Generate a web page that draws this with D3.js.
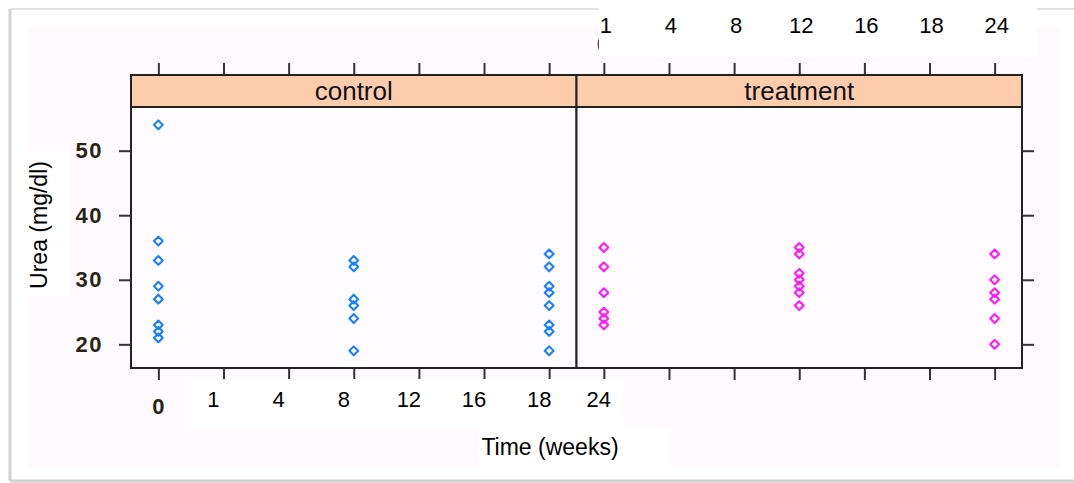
<!DOCTYPE html>
<html>
<head>
<meta charset="utf-8">
<script src="https://cdn.jsdelivr.net/npm/d3@7"></script>
<style>
  body { margin: 0; background: #fff; }
  svg { display: block; font-family: Arial, "Liberation Sans", sans-serif; }
</style>
</head>
<body>
<svg id="chart"></svg>
<script>
// Data
const panels = ["control", "treatment"];
const slotCount = 7;                 // tick positions per panel
const timeSlots = [0, 3, 6];         // where the measurements sit
const controlUrea = [
  [54, 36, 33, 29, 27, 23, 22, 21],
  [33, 32, 27, 26, 24, 19],
  [34, 32, 29, 28, 26, 23, 22, 19]
];
const treatmentUrea = [
  [35, 32, 28, 25, 24, 23],
  [35, 34, 31, 30, 29, 28, 26],
  [34, 30, 28, 27, 24, 20]
];
const yTicks = [20, 30, 40, 50];
const pastedLabels = ["1", "4", "8", "12", "16", "18", "24"];
const panelColors = ["#1a80ff", "#ff1aff"];

const width = 1074, height = 483;
const svg = d3.select("#chart").attr("width", width).attr("height", height);

// page frame / background
svg.append("rect").attr("x", 27).attr("y", 27).attr("width", 1035).attr("height", 440)
  .attr("fill", "#fefafe");
svg.append("line").attr("x1", 10).attr("x2", 10).attr("y1", 9).attr("y2", 481)
  .attr("stroke", "#d2d2d2").attr("stroke-width", 3);
svg.append("line").attr("x1", 10).attr("x2", width).attr("y1", 9).attr("y2", 9)
  .attr("stroke", "#e2e2e2").attr("stroke-width", 2);
svg.append("line").attr("x1", 10).attr("x2", width).attr("y1", 481).attr("y2", 481)
  .attr("stroke", "#d0d0d0").attr("stroke-width", 3);

const plotLeft = 131, plotRight = 1022, plotTop = 107, plotBottom = 368, stripTop = 75;
const panelW = (plotRight - plotLeft) / panels.length;

const y = d3.scaleLinear().domain([16.33, 56.77]).range([plotBottom, plotTop]);
const xScales = panels.map((p, i) => d3.scalePoint()
  .domain(d3.range(slotCount))
  .range([plotLeft + i * panelW, plotLeft + (i + 1) * panelW])
  .padding(0.42));

const inkDark = "#2a2418";
const symbol = "M0,-4.4L4.4,0L0,4.4L-4.4,0Z";

panels.forEach((name, i) => {
  const x = xScales[i];
  const x0 = plotLeft + i * panelW;
  const g = svg.append("g");

  // ticks top and bottom
  const axB = g.append("g").attr("transform", `translate(0,${plotBottom})`)
    .call(d3.axisBottom(x).tickSize(12).tickFormat(""));
  const axT = g.append("g").attr("transform", `translate(0,${stripTop})`)
    .call(d3.axisTop(x).tickSize(12).tickFormat(""));
  [axB, axT].forEach(a => {
    a.select(".domain").remove();
    a.selectAll("line").attr("stroke", "#333").attr("stroke-width", 2);
  });

  // panel box and strip
  g.append("rect").attr("x", x0).attr("y", stripTop).attr("width", panelW).attr("height", plotTop - stripTop)
    .attr("fill", "#fdcdab").attr("stroke", "#222").attr("stroke-width", 2);
  g.append("rect").attr("x", x0).attr("y", plotTop).attr("width", panelW).attr("height", plotBottom - plotTop)
    .attr("fill", "#fffcff").attr("stroke", "#222").attr("stroke-width", 2);
  g.append("text").attr("x", x0 + panelW / 2).attr("y", plotTop - 7)
    .attr("text-anchor", "middle").attr("font-size", 26).attr("fill", "#10101c")
    .text(name);

  // points
  const series = i === 0 ? controlUrea : treatmentUrea;
  series.forEach((vals, k) => {
    g.selectAll(null).data(vals).enter().append("path")
      .attr("d", symbol)
      .attr("transform", d => `translate(${x(timeSlots[k])},${y(d)})`)
      .attr("fill", "none")
      .attr("stroke", panelColors[i])
      .attr("stroke-width", 2.1)
      .attr("stroke-linejoin", "round");
  });
});

// y axis: labels on the left, ticks on both sides
const axL = svg.append("g").attr("transform", `translate(${plotLeft},0)`)
  .call(d3.axisLeft(y).tickValues(yTicks).tickSize(12).tickPadding(16));
const axR = svg.append("g").attr("transform", `translate(${plotRight},0)`)
  .call(d3.axisRight(y).tickValues(yTicks).tickSize(12).tickFormat(""));
[axL, axR].forEach(a => {
  a.select(".domain").remove();
  a.selectAll("line").attr("stroke", "#333").attr("stroke-width", 2);
});
axL.selectAll("text").attr("font-size", 22).attr("font-weight", "bold")
  .attr("letter-spacing", 1.5)
  .attr("fill", inkDark).attr("font-family", "Arial, 'Liberation Sans', sans-serif");

// original bold x label left under the pasted ones
svg.append("text").attr("x", xScales[0](0)).attr("y", 414)
  .attr("text-anchor", "middle").attr("font-size", 22).attr("font-weight", "bold")
  .attr("fill", inkDark).text("0");
// sliver of the covered top label
svg.append("path")
  .attr("d", `M${xScales[1](0) - 3},37 Q${xScales[1](0) - 7},44 ${xScales[1](0) - 3},51`)
  .attr("fill", "none").attr("stroke", "#7a3020").attr("stroke-width", 2.5);

// pasted white label boxes
svg.append("rect").attr("x", 599).attr("y", 8).attr("width", 438).attr("height", 49).attr("fill", "#fff");
svg.append("rect").attr("x", 189).attr("y", 379).attr("width", 434).attr("height", 49).attr("fill", "#fff");
svg.append("rect").attr("x", 479).attr("y", 428).attr("width", 192).attr("height", 39).attr("fill", "#fff");
svg.append("rect").attr("x", 27).attr("y", 150).attr("width", 43).attr("height", 146).attr("fill", "#fff");

// top labels over treatment ticks
svg.append("g").selectAll("text").data(pastedLabels).enter().append("text")
  .attr("x", (d, k) => xScales[1](k) + 2)
  .attr("y", 33)
  .attr("text-anchor", "middle").attr("font-size", 22).attr("fill", "#000")
  .text(d => d);

// bottom labels: control slots 1..6 then treatment slot 0, nudged left
const bottomPos = d3.range(1, slotCount).map(k => xScales[0](k)).concat([xScales[1](0)]);
svg.append("g").selectAll("text").data(pastedLabels).enter().append("text")
  .attr("x", (d, k) => bottomPos[k] - (k === pastedLabels.length - 1 ? 5 : 10))
  .attr("y", 407)
  .attr("text-anchor", "middle").attr("font-size", 22).attr("fill", "#000")
  .text(d => d);

// axis titles
svg.append("text").attr("x", 550).attr("y", 455)
  .attr("text-anchor", "middle").attr("font-size", 23).attr("fill", "#000")
  .text("Time (weeks)");
svg.append("text").attr("transform", "translate(47,225) rotate(-90)")
  .attr("text-anchor", "middle").attr("font-size", 23).attr("fill", "#000")
  .text("Urea (mg/dl)");
</script>
</body>
</html>
